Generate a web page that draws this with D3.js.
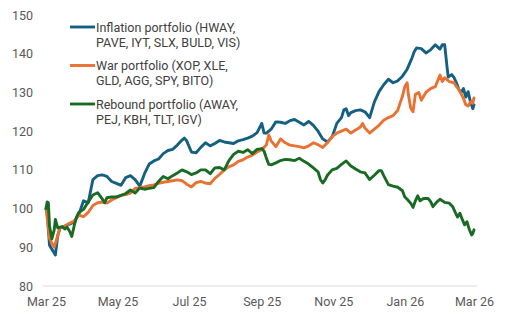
<!DOCTYPE html>
<html>
<head>
<meta charset="utf-8">
<script src="https://cdn.jsdelivr.net/npm/d3@7"></script>
<style>
  body { margin: 0; background: #fff; }
  text { font-family: Roboto, "Open Sans", sans-serif; }
</style>
</head>
<body>
<div id="chart"></div>
<script>
// portfolio values, indexed to 100; each pair is [days since 1 Mar 2025, value]
var inflation = [[0,100],[1,99],[3,90.5],[5,89.5],[7,88.5],[8,88],[10,93],[12,95],[16,95.5],[20,96],[24,96.5],[28,98.5],[32,102],[36,101.5],[40,107.5],[44,108.5],[48,108.7],[52,108.3],[56,107],[60,106.5],[64,106],[68,108],[72,108.5],[76,107.5],[80,105.8],[84,109],[88,111.5],[92,112.3],[96,112.8],[100,114.2],[104,115],[108,115.3],[112,116.4],[116,117.7],[118,118.2],[120,117.5],[124,114.6],[128,114.4],[132,115.8],[136,117],[140,116.2],[144,116.8],[148,117.6],[152,117.2],[156,117],[160,116.8],[164,117.5],[168,117.8],[172,118.2],[176,118.7],[180,119.6],[184,122],[186,119.5],[188,119.5],[192,120.5],[196,122.4],[200,122.3],[204,122],[208,122.7],[212,123],[216,122.3],[220,121.6],[224,122.5],[228,121.5],[232,120],[236,118],[240,117.2],[244,118.5],[248,122],[252,123.5],[254,125.5],[256,125.8],[258,124],[260,124.8],[264,125.3],[268,125.5],[272,125],[276,123.5],[280,127.5],[284,130.2],[288,132],[292,133.4],[296,132.5],[300,133],[304,134.2],[308,136],[312,138.8],[314,140.5],[316,141.5],[320,141.3],[324,140.2],[328,141],[332,142.3],[336,141.2],[338,142.3],[340,142.3],[342,136.6],[343,134],[346,134.6],[348,133.8],[350,132.5],[352,130.8],[354,130],[356,131],[358,128.8],[360,130.2],[362,127.5],[364,125.8],[365,126.8]];

var war = [[0,100],[2,95],[3,92.4],[5,91],[7,90],[9,92],[12,95],[16,95.5],[20,96.2],[24,96.8],[28,98.3],[32,97.9],[36,99],[40,100.8],[44,101.5],[48,101.7],[52,101.4],[56,102.2],[60,102.8],[64,103.4],[68,103.6],[72,104],[76,105.2],[80,105.4],[84,105.6],[88,105.9],[92,106.1],[96,106.5],[100,106.8],[104,107],[108,107.2],[112,107.4],[116,107.2],[120,106.3],[124,105.6],[128,106.7],[132,107],[136,106.6],[140,106.4],[144,107.8],[148,108.8],[152,110],[156,110.8],[160,111.3],[164,112.2],[168,112.6],[172,113.3],[176,113.8],[180,114.6],[184,115.2],[188,116.5],[190,119],[192,117.5],[196,116],[200,118],[204,117],[208,116.4],[212,116.2],[216,116],[220,115.7],[224,116.2],[228,117],[232,116.5],[236,115.8],[240,117],[244,118.6],[248,119.5],[252,120],[256,120.5],[260,119.5],[264,120.3],[268,121],[270,122],[272,120.8],[276,119.5],[280,120.5],[284,121.5],[288,122.8],[292,123.5],[296,124],[300,125.4],[302,127.3],[304,129],[306,131.5],[308,132.5],[309,129.5],[311,126],[313,125],[315,129.5],[318,130],[320,128],[324,130],[328,131],[332,131.5],[336,134.5],[338,132.8],[340,133.8],[344,132.8],[348,132.5],[350,131.5],[352,130.8],[356,128.5],[358,126.8],[360,126.5],[362,127.5],[364,127.2],[365,128.6]];

var rebound = [[0,100],[1,101.7],[2,101.5],[3,95.5],[5,92.2],[7,94.5],[8,97.2],[10,95],[12,95.2],[14,95.3],[16,94.7],[18,95.2],[20,94.2],[22,92.8],[24,95.5],[26,97.8],[28,99],[32,99.8],[36,101.7],[40,103.5],[44,104.1],[48,102.5],[50,101.5],[52,102.8],[56,103],[60,103],[64,103.4],[68,103.9],[72,104.8],[76,104],[80,105.3],[84,105],[88,105.2],[92,105.4],[96,107],[100,108.3],[104,107.7],[108,108.5],[112,109.2],[116,110],[120,109.5],[124,108.8],[128,109.2],[132,110],[136,110],[140,109],[144,110.5],[148,110.6],[152,110],[156,112.4],[160,114],[164,114.8],[168,114.5],[172,115.2],[176,114.2],[180,115.3],[184,115.5],[186,114.8],[188,113],[190,111.4],[192,111.3],[196,111.8],[200,112.4],[204,112.7],[208,112.6],[212,112.4],[216,113],[220,112.2],[224,111.5],[228,110.5],[232,109.5],[234,107.5],[236,106.6],[238,107.4],[240,108.6],[244,110],[248,110.4],[252,111.4],[256,112.3],[260,111],[264,110.2],[268,109.5],[272,109.2],[276,107.5],[280,108.6],[284,109.8],[286,109.8],[288,108.5],[292,106.2],[296,105.8],[300,105.5],[304,104.6],[306,103],[308,102.4],[311,101.4],[313,100.3],[315,102],[317,103.3],[319,102],[322,102.6],[326,102.6],[328,101.8],[330,100.5],[333,101.6],[336,102.4],[340,101.6],[344,101.4],[347,100.4],[349,99],[351,97.8],[353,98.8],[355,97.2],[357,95.8],[359,96.6],[361,94.6],[363,93.2],[364,93.6],[365,94.5]];

var seriesNames = [
  ["Inflation portfolio (HWAY,", "PAVE, IYT, SLX, BULD, VIS)"],
  ["War portfolio (XOP, XLE,", "GLD, AGG, SPY, BITO)"],
  ["Rebound portfolio (AWAY,", "PEJ, KBH, TLT, IGV)"]
];
var yTicks = [80, 90, 100, 110, 120, 130, 140, 150];
var xTickMonths = ["2025-03-01", "2025-05-01", "2025-07-01", "2025-09-01", "2025-11-01", "2026-01-01", "2026-03-01"];

var colors = ["#156082", "#E97132", "#196B24"];
var width = 525, height = 323;
var start = new Date(2025, 2, 1);
var parse = d3.timeParse("%Y-%m-%d");

var svg = d3.select("#chart")
    .append("svg")
    .attr("width", width)
    .attr("height", height);

var x = d3.scaleTime()
    .domain([start, new Date(2026, 2, 1)])
    .range([46, 474]);

var y = d3.scaleLinear()
    .domain([80, 150])
    .range([286, 15]);

// baseline
svg.append("line")
    .attr("x1", 43).attr("x2", 477)
    .attr("y1", y(80)).attr("y2", y(80))
    .attr("stroke", "#d9d9d9")
    .attr("stroke-width", 1);

// Y axis labels
var yAxis = svg.append("g")
    .attr("transform", "translate(38,0)")
    .call(d3.axisLeft(y).tickValues(yTicks).tickSize(0).tickPadding(5));
yAxis.select(".domain").remove();
yAxis.selectAll("text")
    .attr("font-size", "12.5px")
    .attr("fill", "#595959")
    .style("font-family", "Roboto, sans-serif");

// X axis labels
var xAxis = svg.append("g")
    .attr("transform", "translate(0," + y(80) + ")")
    .call(d3.axisBottom(x)
        .tickValues(xTickMonths.map(parse))
        .tickFormat(d3.timeFormat("%b %y"))
        .tickSize(0)
        .tickPadding(11));
xAxis.select(".domain").remove();
xAxis.selectAll("text")
    .attr("font-size", "12.5px")
    .attr("fill", "#595959")
    .style("font-family", "Roboto, sans-serif");

var line = d3.line()
    .x(function (d) { return x(d3.timeDay.offset(start, d[0])); })
    .y(function (d) { return y(d[1]); });

[inflation, war, rebound].forEach(function (s, i) {
    svg.append("path")
        .datum(s)
        .attr("d", line)
        .attr("fill", "none")
        .attr("stroke", colors[i])
        .attr("stroke-width", 2.9)
        .attr("stroke-linejoin", "round")
        .attr("stroke-linecap", "round");
});

// legend
var legend = svg.append("g");
seriesNames.forEach(function (lines, i) {
    var ly = 27 + i * 38.5;
    legend.append("line")
        .attr("x1", 70).attr("x2", 95)
        .attr("y1", ly).attr("y2", ly)
        .attr("stroke", colors[i])
        .attr("stroke-width", 2.9);
    legend.append("text")
        .attr("x", 96)
        .attr("y", ly + 4.5)
        .attr("font-size", "12.5px")
        .attr("fill", "#404040")
        .text(lines[0]);
    legend.append("text")
        .attr("x", 96)
        .attr("y", ly + 19.5)
        .attr("font-size", "12.5px")
        .attr("fill", "#404040")
        .text(lines[1]);
});
</script>
</body>
</html>
